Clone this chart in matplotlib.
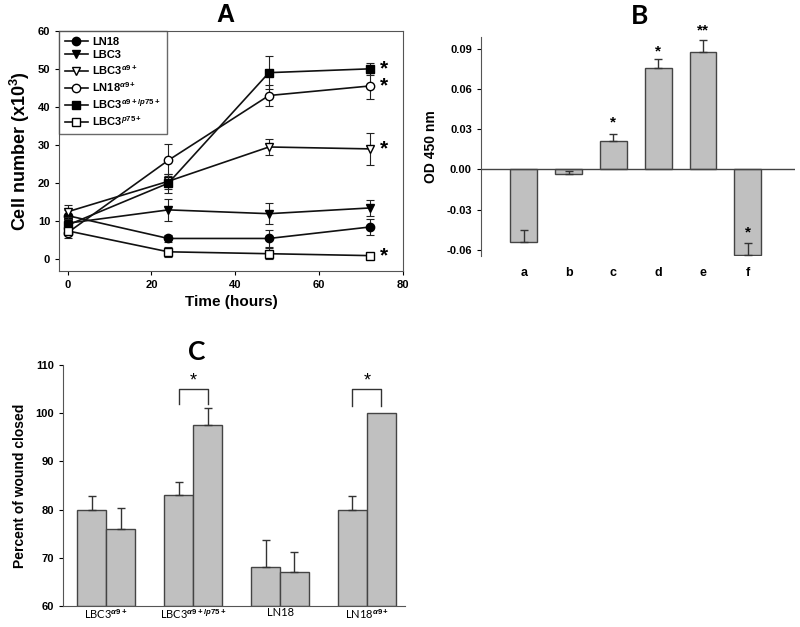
import matplotlib.pyplot as plt
import numpy as np

plt.rcParams['font.family'] = ['Liberation Sans', 'DejaVu Sans']
plt.rcParams['mathtext.fontset'] = 'custom'
plt.rcParams['mathtext.it'] = 'Liberation Sans:italic:bold'
plt.rcParams['mathtext.rm'] = 'Liberation Sans:bold'

# panel A - cell growth
hours = [0, 24, 48, 72]
ln18 = [11.5, 5.5, 5.5, 8.5]
ln18_err = [1.5, 0.8, 2.2, 2.0]
lbc3 = [9.5, 13, 12, 13.5]
lbc3_err = [1.5, 2.8, 2.8, 2.2]
lbc3_a9 = [12.5, 20.5, 29.5, 29]
lbc3_a9_err = [1.8, 2.0, 2.0, 4.2]
ln18_a9 = [7, 26, 43, 45.5]
ln18_a9_err = [1.5, 4.2, 2.8, 3.5]
lbc3_a9p75 = [9, 20, 49, 50]
lbc3_a9p75_err = [1.0, 2.5, 4.3, 1.6]
lbc3_p75 = [7.5, 2, 1.5, 1]
lbc3_p75_err = [1.0, 1.3, 1.5, 0.3]
star_a_y = [50, 45.5, 29, 1]

# panel B - OD 450
b_labels = ['a', 'b', 'c', 'd', 'e', 'f']
b_vals = [-0.054, -0.003, 0.021, 0.076, 0.088, -0.064]
b_err = [0.0085, 0.002, 0.0055, 0.0065, 0.009, 0.009]
b_stars = ['', '', '*', '*', '**', '*']
b_star_y = [0, 0, 0.035, 0.0885, 0.104, -0.047]

# panel C - wound closure
c_groups = [r'LBC3$^{\alpha9+}$', r'LBC3$^{\alpha9+/p75+}$', 'LN18', r'LN18$^{\alpha9+}$']
c_first = [80, 83, 68, 80]
c_first_err = [2.8, 2.8, 5.7, 2.8]
c_second = [76, 97.5, 67, 100]
c_second_err = [4.3, 3.6, 4.3, 0]

fig = plt.figure(figsize=(8, 6.27), dpi=100)

# ---------------- A
ax1 = fig.add_axes([0.074, 0.568, 0.43, 0.383])
series = [(ln18, ln18_err, 'o', 'black', 'LN18'),
          (lbc3, lbc3_err, 'v', 'black', 'LBC3'),
          (lbc3_a9, lbc3_a9_err, 'v', 'white', r'LBC3$^{\alpha9+}$'),
          (ln18_a9, ln18_a9_err, 'o', 'white', r'LN18$^{\alpha9+}$'),
          (lbc3_a9p75, lbc3_a9p75_err, 's', 'black', r'LBC3$^{\alpha9+/p75+}$'),
          (lbc3_p75, lbc3_p75_err, 's', 'white', r'LBC3$^{p75+}$')]
for vals, errs, mk, fc, lab in series:
    ax1.errorbar(hours, vals, yerr=errs, fmt='none', ecolor='#222222',
                 elinewidth=0.8, capsize=3, capthick=0.8)
    ax1.plot(hours, vals, '-' + mk, color='#111111', mfc=fc, mec='black',
             ms=6, lw=1.2, label=lab)
for y in star_a_y:
    ax1.text(74.5, y, '*', fontsize=15, fontweight='bold', va='center', ha='left')
ax1.set_xlim(-2, 80)
ax1.set_ylim(-3, 60)
ax1.set_xticks([0, 20, 40, 60, 80])
ax1.set_yticks([0, 10, 20, 30, 40, 50, 60])
ax1.tick_params(direction='out', labelsize=8, length=3)
for t in ax1.get_xticklabels() + ax1.get_yticklabels():
    t.set_fontweight('bold')
ax1.set_xlabel('Time (hours)', fontsize=11, fontweight='bold', labelpad=4)
ax1.set_ylabel(r'Cell number (x10$^3$)', fontsize=13, fontweight='bold', labelpad=4)
for s in ax1.spines.values():
    s.set_color('#555555')
leg = ax1.legend(loc='upper left', frameon=True, fancybox=False,
                 borderaxespad=0, handlelength=2.0, labelspacing=0.28, borderpad=0.55,
                 handletextpad=0.4, prop={'weight': 'bold', 'size': 8})
leg.get_frame().set_edgecolor('#444444')
leg.get_frame().set_linewidth(1.0)

# ---------------- B
ax2 = fig.add_axes([0.601, 0.592, 0.3925, 0.349])
xb = np.arange(len(b_labels))
ax2.bar(xb, b_vals, width=0.6, color='#C0C0C0', edgecolor='#444444', linewidth=1)
ax2.errorbar(xb, b_vals, yerr=[np.zeros(len(b_err)), b_err], fmt='none', ecolor='#333333',
             elinewidth=1, capsize=3, capthick=1)
for i, s in enumerate(b_stars):
    if s:
        ax2.text(xb[i], b_star_y[i], s, fontsize=11, fontweight='bold', ha='center', va='center')
ax2.axhline(0, color='#444444', lw=1)
ax2.set_xlim(-0.96, 6.05)
ax2.set_ylim(-0.0645, 0.099)
ax2.set_yticks([-0.06, -0.03, 0.0, 0.03, 0.06, 0.09])
ax2.set_yticklabels(['-0.06', '-0.03', '0.00', '0.03', '0.06', '0.09'])
ax2.set_xticks(xb)
ax2.set_xticklabels(b_labels)
ax2.tick_params(axis='x', length=0, labelsize=9, pad=8)
ax2.tick_params(axis='y', direction='out', length=3, labelsize=8)
for t in ax2.get_xticklabels() + ax2.get_yticklabels():
    t.set_fontweight('bold')
for side in ['top', 'right', 'bottom']:
    ax2.spines[side].set_visible(False)
ax2.spines['left'].set_color('#555555')
ax2.set_ylabel('OD 450 nm', fontsize=10, fontweight='bold', labelpad=6)

# ---------------- C
ax3 = fig.add_axes([0.079, 0.0335, 0.4275, 0.3844])
xc = np.arange(len(c_groups))
w = 0.333
ax3.bar(xc - w / 2, np.array(c_first) - 60, bottom=60, width=w, color='#C0C0C0',
        edgecolor='#444444', linewidth=1)
ax3.bar(xc + w / 2, np.array(c_second) - 60, bottom=60, width=w, color='#C0C0C0',
        edgecolor='#444444', linewidth=1)
ax3.errorbar(xc - w / 2, c_first, yerr=[np.zeros(4), c_first_err], fmt='none', ecolor='#333333',
             elinewidth=1, capsize=3, capthick=1)
ax3.errorbar(xc[:3] + w / 2, c_second[:3], yerr=[np.zeros(3), c_second_err[:3]], fmt='none',
             ecolor='#333333', elinewidth=1, capsize=3, capthick=1)
for g, leg_y in [(1, 102), (3, 101.5)]:
    ax3.plot([g - w / 2, g - w / 2, g + w / 2, g + w / 2], [leg_y, 105, 105, leg_y],
             color='#333333', lw=1)
    ax3.text(g, 106.6, '*', fontsize=13, ha='center', va='center')
ax3.set_xlim(-0.494, 3.44)
ax3.set_ylim(60, 110)
ax3.set_yticks([60, 70, 80, 90, 100, 110])
ax3.set_xticks(xc)
ax3.set_xticklabels(c_groups, fontsize=8, family=['Lato', 'DejaVu Sans'])
ax3.tick_params(axis='x', length=0, pad=1)
ax3.tick_params(axis='y', direction='out', length=3, labelsize=8)
for t in ax3.get_yticklabels():
    t.set_fontweight('bold')
for side in ['top', 'right']:
    ax3.spines[side].set_visible(False)
ax3.spines['left'].set_color('#555555')
ax3.spines['bottom'].set_color('#555555')
ax3.set_ylabel('Percent of wound closed', fontsize=10, fontweight='bold', labelpad=6)

# panel letters
fig.text(225 / 800, 1 - 15 / 627, 'A', fontsize=18, fontweight='bold', ha='center', va='center')
fig.text(640 / 800, 1 - 16 / 627, 'B', fontsize=19, fontweight='bold', ha='center', va='center',
         family=['Lato', 'DejaVu Sans'])
fig.text(197 / 800, 1 - 352 / 627, 'C', fontsize=19, fontweight='bold', ha='center', va='center',
         family=['Lato', 'DejaVu Sans'])

fig.savefig('out.png', dpi=100)
